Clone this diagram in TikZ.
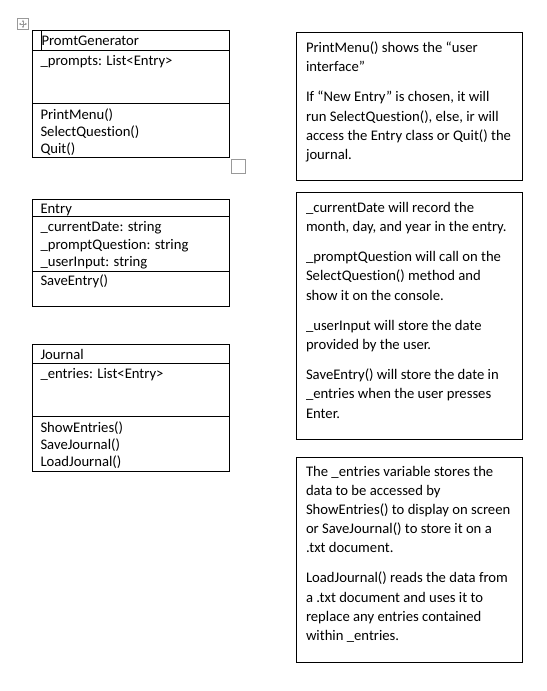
\documentclass[tikz,border=0pt]{standalone}
\usepackage{fontspec}
\setmainfont{Carlito}[RawFeature={-liga;-clig;-dlig}]
\usetikzlibrary{arrows.meta}
\tikzset{
  umlbox/.style={draw=black, line width=0.75pt},
  sepline/.style={draw=black, line width=0.75pt},
  txt/.style={anchor=base west, inner sep=0pt, outer sep=0pt, font=\fontsize{11}{13}\selectfont, text=black},
  handle/.style={draw=black!40, line width=0.6pt},
  tip/.style={-{Stealth[length=1.6pt,width=1.8pt]}}
}
\begin{document}
\begin{tikzpicture}[x=0.75pt,y=-0.75pt]
\useasboundingbox (0,0) rectangle (546,691);
\fill[white] (0,0) rectangle (546,691);

% Word table handles
\draw[handle] (17.5,18.5) rectangle (28.5,29.5);
\coordinate (mc) at (23,24);
\draw[handle,tip] (mc) -- (23,20);
\draw[handle,tip] (mc) -- (23,28);
\draw[handle,tip] (mc) -- (19,24);
\draw[handle,tip] (mc) -- (27,24);
\draw[handle] (231.5,159.5) rectangle (245.5,173.5);

% PromtGenerator
\draw[umlbox] (32,31) rectangle (229.5,158);
\draw[sepline] (32,51) -- (229.5,51);
\draw[sepline] (32,104) -- (229.5,104);
\draw[black, line width=0.6pt] (41,31.5) -- (41,50.5);
\node[txt] (pg) at (41.5,46) {PromtGenerator};
\node[txt] (pga) at (40.5,66) {\_prompts: List<Entry>};
\node[txt] (pgm1) at (40.5,119.5) {PrintMenu()};
\node[txt] (pgm2) at (40.5,136.5) {SelectQuestion()};
\node[txt] (pgm3) at (40.5,153.5) {Quit()};

% Entry
\draw[umlbox] (32,200) rectangle (229.5,306);
\draw[sepline] (32,217) -- (229.5,217);
\draw[sepline] (32,271) -- (229.5,271);
\node[txt] (en) at (40.5,214) {Entry};
\node[txt] (ena1) at (40.5,232) {\_currentDate: string};
\node[txt] (ena2) at (40.5,249.5) {\_promptQuestion: string};
\node[txt] (ena3) at (40.5,267) {\_userInput: string};
\node[txt] (enm1) at (40.5,286) {SaveEntry()};

% Journal
\draw[umlbox] (32,344) rectangle (229.5,471);
\draw[sepline] (32,363) -- (229.5,363);
\draw[sepline] (32,416) -- (229.5,416);
\node[txt] (jn) at (40.5,359.5) {Journal};
\node[txt] (jna) at (40.5,378) {\_entries: List<Entry>};
\node[txt] (jnm1) at (40.5,432) {ShowEntries()};
\node[txt] (jnm2) at (40.5,449) {SaveJournal()};
\node[txt] (jnm3) at (40.5,466) {LoadJournal()};

% Note A
\draw[umlbox] (296,33) rectangle (522,181);
\node[txt] (a1) at (306,52.5) {PrintMenu() shows the “user};
\node[txt] (a2) at (306,71.7) {interface”};
\node[txt] (a3) at (306,102) {If “New Entry” is chosen, it will};
\node[txt] (a4) at (306,121.2) {run SelectQuestion(), else, ir will};
\node[txt] (a5) at (306,140.4) {access the Entry class or Quit() the};
\node[txt] (a6) at (306,159.6) {journal.};

% Note B
\draw[umlbox] (296,193) rectangle (522,439);
\node[txt] (b1) at (306,212.5) {\_currentDate will record the};
\node[txt] (b2) at (306,231.7) {month, day, and year in the entry.};
\node[txt] (b3) at (306,261.8) {\_promptQuestion will call on the};
\node[txt] (b4) at (306,281) {SelectQuestion() method and};
\node[txt] (b5) at (306,300.2) {show it on the console.};
\node[txt] (b6) at (306,330.3) {\_userInput will store the date};
\node[txt] (b7) at (306,349.5) {provided by the user.};
\node[txt] (b8) at (306,379.6) {SaveEntry() will store the date in};
\node[txt] (b9) at (306,398.8) {\_entries when the user presses};
\node[txt] (b10) at (306,418) {Enter.};

% Note C
\draw[umlbox] (296,457) rectangle (522,662);
\node[txt] (c1) at (306,476) {The \_entries variable stores the};
\node[txt] (c2) at (306,495.2) {data to be accessed by};
\node[txt] (c3) at (306,514.4) {ShowEntries() to display on screen};
\node[txt] (c4) at (306,533.6) {or SaveJournal() to store it on a};
\node[txt] (c5) at (306,552.8) {.txt document.};
\node[txt] (c6) at (306,582.9) {LoadJournal() reads the data from};
\node[txt] (c7) at (306,602.1) {a .txt document and uses it to};
\node[txt] (c8) at (306,621.3) {replace any entries contained};
\node[txt] (c9) at (306,640.5) {within \_entries.};
\end{tikzpicture}
\end{document}
